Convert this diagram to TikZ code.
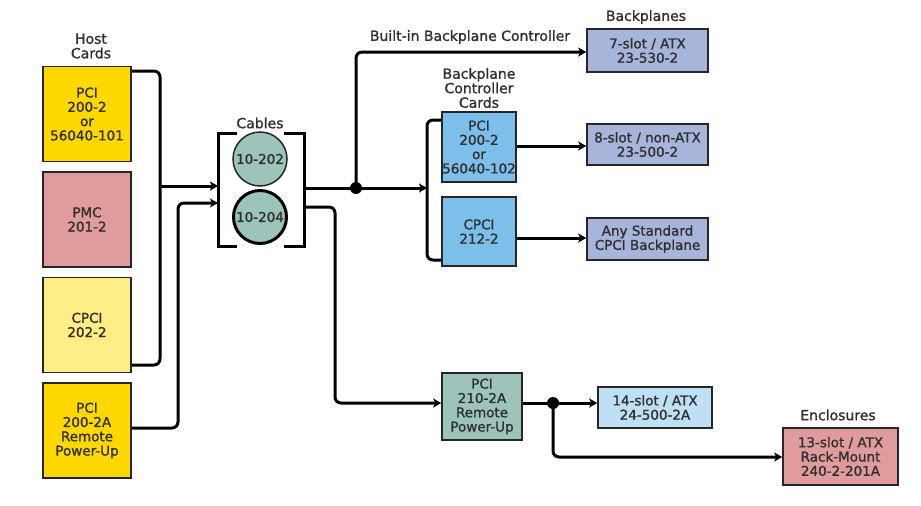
\documentclass[tikz,border=0pt]{standalone}
\usepackage{fontspec}
\setmainfont{DejaVu Sans}[UprightFeatures={FakeBold=1.3}]
\usetikzlibrary{arrows.meta}
\definecolor{gold}{HTML}{FFD800}
\definecolor{pinkc}{HTML}{E09C9C}
\definecolor{lyellow}{HTML}{FFED85}
\definecolor{tealc}{HTML}{9CC4BA}
\definecolor{lblue}{HTML}{7CBFEA}
\definecolor{lavc}{HTML}{A7B5DB}
\definecolor{pblue}{HTML}{BEE0F5}
\definecolor{txt}{HTML}{303030}
\tikzset{
  card/.style={draw=black!85, line width=1.6pt, minimum width=88pt, minimum height=95pt, inner sep=0pt, align=center, text=txt, font=\fontsize{13.5}{14.3}\selectfont},
  box/.style={draw=black!85, line width=1.6pt, inner sep=0pt, align=center, text=txt, font=\fontsize{13.5}{14.3}\selectfont},
  lbl/.style={align=center, text=txt, inner sep=0pt, font=\fontsize{14}{14.5}\selectfont},
  wire/.style={line width=3pt, rounded corners=6pt},
  arr/.style={wire, -{Stealth[length=8pt,width=9pt,inset=2pt]}},
  brk/.style={line width=3pt},
  dotj/.style={circle, fill=black, minimum size=12pt, inner sep=0pt}
}
\begin{document}
\begin{tikzpicture}[x=1pt,y=-1pt]
\useasboundingbox (0,0) rectangle (921,506);
% Host cards
\node[lbl] (hostl) at (91,46) {Host\\Cards};
\node[card, fill=gold] (h1) at (87,114) {PCI\\200-2\\or\\56040-101};
\node[card, fill=pinkc] (h2) at (87,219.5) {PMC\\201-2};
\node[card, fill=lyellow] (h3) at (87,325) {CPCI\\202-2};
\node[card, fill=gold] (h4) at (87,430.5) {PCI\\200-2A\\Remote\\Power-Up};
% Cables
\node[lbl] (cabl) at (260,123) {Cables};
\node[circle, draw=black!85, line width=1.5pt, fill=tealc, minimum size=54pt, inner sep=0pt, text=txt, font=\fontsize{13.5}{14.3}\selectfont] (c1) at (260,159) {10-202};
\node[circle, draw=black, line width=3pt, fill=tealc, minimum size=53pt, inner sep=0pt, text=txt, font=\fontsize{13.5}{14.3}\selectfont] (c2) at (260,217) {10-204};
\draw[brk] (237,133) -- (218,133) -- (218,246) -- (237,246);
\draw[brk] (284,133) -- (304,133) -- (304,246) -- (284,246);
\coordinate (cin1) at (218,186);
\coordinate (cin2) at (218,203);
\coordinate (cout1) at (304,188);
\coordinate (cout2) at (304,207);
% Host wiring
\draw[wire] (h1.east |- 0,71) -- (160,71) -- (160,365) -- (h3.east |- 0,365);
\draw[arr] (160,186) -- (cin1);
\draw[arr] (h4.east |- 0,428) -- (178,428) -- (178,203) -- (cin2);
% Junction and built-in
\node[dotj] (j1) at (356,188) {};
\node[box, fill=lavc, minimum width=121pt, minimum height=43pt] (s7) at (647.5,50.5) {7-slot / ATX\\23-530-2};
\node[lbl] (bpl) at (646,17) {Backplanes};
\node[lbl] (bil) at (470,37) {Built-in Backplane Controller};
\draw[wire] (cout1) -- (j1.center);
\draw[arr] (j1.center) -- (356,52) -- (s7.west |- 0,52);
% Backplane controller cards
\node[lbl] (bcl) at (479,88) {Backplane\\Controller\\Cards};
\node[box, fill=lblue, minimum width=74pt, minimum height=70pt] (bc1) at (479,147) {PCI\\200-2\\or\\56040-102};
\node[box, fill=lblue, minimum width=74pt, minimum height=69pt] (bc2) at (479,231.5) {CPCI\\212-2};
\draw[wire] (bc1.west |- 0,120) -- (427,120) -- (427,260) -- (bc2.west |- 0,260);
\draw[arr] (j1.center) -- (427,188);
\node[box, fill=lavc, minimum width=121pt, minimum height=41pt] (s8) at (647.5,144.5) {8-slot / non-ATX\\23-500-2};
\node[box, fill=lavc, minimum width=121pt, minimum height=42pt] (sany) at (647.5,239) {Any Standard\\CPCI Backplane};
\draw[arr] (bc1.east |- 0,146) -- (s8.west |- 0,146);
\draw[arr] (bc2.east |- 0,238) -- (sany.west |- 0,238);
% Remote power-up
\node[box, fill=tealc, minimum width=80pt, minimum height=67pt] (pu) at (482,406.5) {PCI\\210-2A\\Remote\\Power-Up};
\draw[arr] (cout2) -- (335,207) -- (335,403) -- (pu.west |- 0,403);
\node[dotj] (j2) at (553,403) {};
\node[box, fill=pblue, minimum width=114pt, minimum height=41pt] (s14) at (655,407.5) {14-slot / ATX\\24-500-2A};
\node[box, fill=pinkc, minimum width=115pt, minimum height=57pt] (enc) at (840.5,456.5) {13-slot / ATX\\Rack-Mount\\240-2-201A};
\node[lbl] (encl) at (838,415) {Enclosures};
\draw[wire] (pu.east |- 0,403) -- (j2.center);
\draw[arr] (j2.center) -- (s14.west |- 0,403);
\draw[arr] (j2.center) -- (553,457) -- (enc.west |- 0,457);
\end{tikzpicture}
\end{document}
